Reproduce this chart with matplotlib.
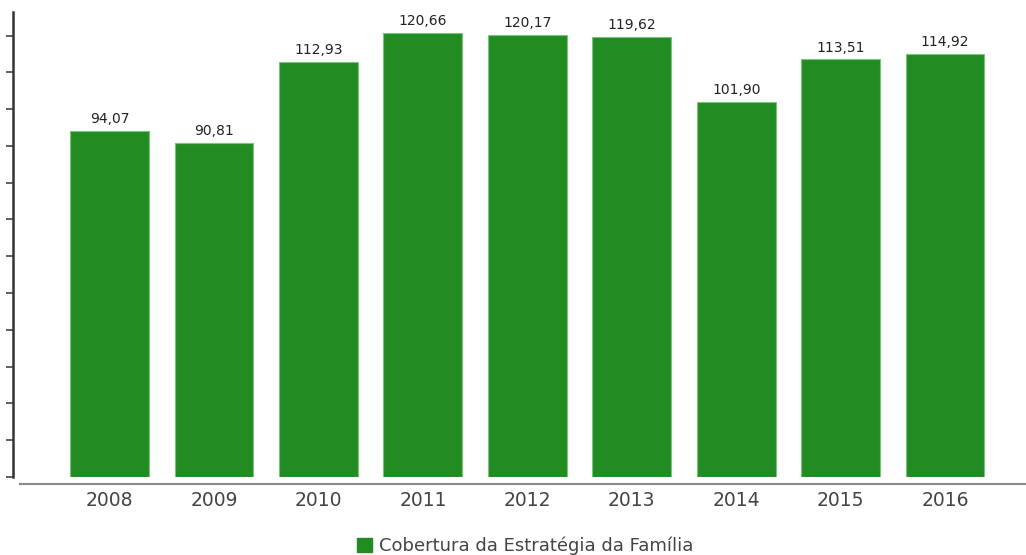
import matplotlib.pyplot as plt
import matplotlib.patches as mpatches

years = ['2008', '2009', '2010', '2011', '2012', '2013', '2014', '2015', '2016']
values = [94.07, 90.81, 112.93, 120.66, 120.17, 119.62, 101.90, 113.51, 114.92]
labels = ['94,07', '90,81', '112,93', '120,66', '120,17', '119,62', '101,90', '113,51', '114,92']
yticks = list(range(0, 121, 10))
green = '#228b22'

fig = plt.figure(figsize=(10.26, 5.55), dpi=100)
ax = fig.add_axes([12.5 / 1026, 78 / 555, 1 - 12.5 / 1026, 465 / 555])

x = range(len(years))
bars = ax.bar(x, values, width=0.755, color=green, edgecolor='#7cc47c', linewidth=0.8)

# value labels above bars
for xi, v, lab in zip(x, values, labels):
    ax.annotate(lab, (xi, v), xytext=(0, 3.5), textcoords='offset points',
                ha='center', va='bottom', fontsize=10, color='#222222')

ax.set_xlim(-0.93, 8.775)
ax.set_ylim(0, 126.4)
ax.set_yticks(yticks)
ax.set_yticklabels([])
ax.tick_params(axis='y', direction='out', length=5, width=1.2, color='#444444')
ax.set_xticks(list(x))
ax.set_xticklabels(years, fontsize=13.5, color='#444444')
ax.tick_params(axis='x', length=0, pad=10)

for s in ['top', 'right', 'bottom']:
    ax.spines[s].set_visible(False)
ax.spines['left'].set_color('#333333')
ax.spines['left'].set_linewidth(1.8)

# separate x axis line below the bars
ax.plot([7.5 / 1013.5, 1.0], [-7 / 465, -7 / 465], transform=ax.transAxes,
        color='#8a8a8a', lw=1.5, clip_on=False)

handle = mpatches.Patch(color=green, label='Cobertura da Estratégia da Família')
fig.legend(handles=[handle], loc='center', bbox_to_anchor=(0.512, 1 - 546 / 555),
           frameon=False, fontsize=13, handlelength=0.8, handleheight=0.8,
           handletextpad=0.4, labelcolor='#444444')

fig.savefig('out.png', dpi=100)
